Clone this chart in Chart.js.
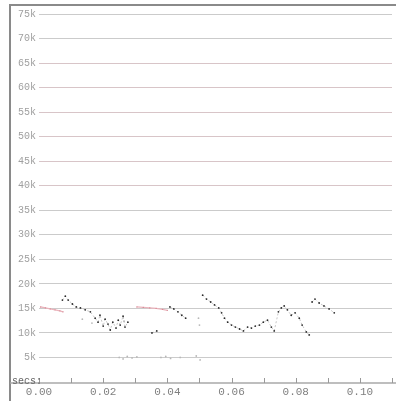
<!DOCTYPE html>
<html>
<head>
<meta charset="UTF-8">
<title>secs scatter</title>
<script src="https://cdn.jsdelivr.net/npm/chart.js"></script>
<style>
    body { margin: 0; background: #fff; }
    canvas { display: block; }
</style>
</head>
<body>
<canvas id="grafica" width="396" height="401"></canvas>
<script>
// main (black) series, null = break in the trace
var blackSecs = [0.0073, 0.0082, 0.0091, 0.0104, 0.0116, 0.0129, 0.0144, 0.0160, 0.0175, 0.0184, 0.0190, 0.0200, 0.0206, 0.0215, 0.0222, 0.0230, 0.0240, 0.0247, 0.0253, 0.0262, 0.0268, 0.0277, 0.0300,
    0.0352, 0.0367, 0.0390,
    0.0408, 0.0420, 0.0433, 0.0445, 0.0457, 0.0480,
    0.0510, 0.0522, 0.0535, 0.0547, 0.0560, 0.0569, 0.0578, 0.0588, 0.0600, 0.0612, 0.0625, 0.0637, 0.0650, 0.0662, 0.0674, 0.0687, 0.0699, 0.0712, 0.0724, 0.0733, 0.0746, 0.0755, 0.0764, 0.0774, 0.0786, 0.0798, 0.0811, 0.0820, 0.0833, 0.0842, 0.0846,
    0.0851, 0.0860, 0.0873, 0.0888, 0.0904, 0.0920];
var blackValues = [16700, 17500, 16700, 15900, 15300, 15100, 14700, 14300, 13000, 12200, 13600, 11400, 12800, 11800, 10600, 12200, 11000, 12600, 11600, 13400, 11200, 12200, null,
    10000, 10400, null,
    15300, 14900, 14300, 13600, 13000, null,
    17700, 16900, 16300, 15700, 15100, 14100, 13000, 12200, 11600, 11200, 10800, 10400, 11200, 11000, 11400, 11600, 12200, 12600, 11200, 10400, 14300, 15100, 15500, 14700, 13600, 14100, 13000, 11600, 10200, 9600, null,
    16300, 16900, 16100, 15500, 14900, 14100];

// pink trace near 15k
var pinkSecs = [0.0005, 0.0020, 0.0035, 0.0050, 0.0065, 0.0075, 0.0200, 0.0305, 0.0325, 0.0345, 0.0365, 0.0385, 0.0400];
var pinkValues = [15300, 15100, 14900, 14700, 14500, 14300, null, 15300, 15200, 15100, 15000, 14800, 14600];

// faint grey points
var greySecs = [0.0135, 0.0165, 0.0265, 0.0250, 0.0262, 0.0275, 0.0290, 0.0305, 0.0380, 0.0395, 0.0410, 0.0440, 0.0490, 0.0497, 0.0500, 0.0502];
var greyValues = [12800, 12000, 12400, 5000, 4700, 5200, 4900, 5100, 5000, 5200, 4800, 5000, 5300, 13000, 11600, 4500];

// ejes
var xMax = 0.11;
var xStep = 0.01;
var yMax = 75000;
var yStep = 5000;

function pares(xs, ys) {
    return xs.map(function (x, i) { return { x: x, y: ys[i] }; });
}

var marco = {
    id: 'marco',
    beforeDraw: function (chart) {
        var c = chart.ctx;
        c.save();
        c.fillStyle = '#fff';
        c.fillRect(0, 0, chart.width, chart.height);
        c.restore();
    },
    afterDraw: function (chart) {
        var c = chart.ctx;
        var xs = chart.scales.x;
        var ys = chart.scales.y;
        var base = ys.getPixelForValue(0);
        c.save();
        // frame
        c.strokeStyle = '#8a8a8a';
        c.lineWidth = 2;
        c.beginPath();
        c.moveTo(10, chart.height);
        c.lineTo(10, 5);
        c.lineTo(chart.width, 5);
        c.stroke();
        // axis line
        c.strokeStyle = '#a8a8a8';
        c.lineWidth = 1.5;
        c.beginPath();
        c.moveTo(10, base + 1);
        c.lineTo(chart.width, base + 1);
        c.stroke();
        // tick marks
        c.lineWidth = 1;
        c.strokeStyle = '#999';
        xs.ticks.forEach(function (t) {
            var px = Math.round(xs.getPixelForValue(t.value)) + 0.5;
            c.beginPath();
            c.moveTo(px, base - 4);
            c.lineTo(px, base + 1);
            c.stroke();
        });
        c.fillStyle = '#666';
        c.font = '10px "Liberation Mono", monospace';
        c.textBaseline = 'middle';
        c.fillText('secs:', 12, base - 1);
        c.restore();
    }
};

var ctx = document.getElementById('grafica').getContext('2d');
var grafica = new Chart(ctx, {
    type: 'scatter',
    data: {
        datasets: [{
            label: 'grey',
            data: pares(greySecs, greyValues),
            showLine: false,
            pointRadius: 0.9,
            pointBackgroundColor: '#b8b8b8',
            pointBorderWidth: 0
        }, {
            label: 'pink',
            data: pares(pinkSecs, pinkValues),
            showLine: true,
            spanGaps: false,
            borderColor: '#eab4bc',
            borderWidth: 1.2,
            pointRadius: 0.7,
            pointBackgroundColor: '#d88a96',
            pointBorderWidth: 0
        }, {
            label: 'main',
            data: pares(blackSecs, blackValues),
            showLine: true,
            spanGaps: false,
            borderColor: '#a0a0a0',
            borderWidth: 0.6,
            borderDash: [2, 2],
            pointRadius: 0.9,
            pointBackgroundColor: '#2a2a2a',
            pointBorderWidth: 0
        }]
    },
    options: {
        responsive: false,
        animation: false,
        devicePixelRatio: 1,
        layout: { padding: { left: 0, right: 3, top: 14, bottom: 0 } },
        plugins: { legend: { display: false }, tooltip: { enabled: false } },
        scales: {
            x: {
                type: 'linear',
                min: 0,
                max: xMax,
                border: { display: false },
                grid: { display: false, drawTicks: false },
                afterFit: function (s) { s.height = 19; },
                ticks: {
                    stepSize: xStep,
                    maxTicksLimit: 20,
                    autoSkip: false,
                    maxRotation: 0,
                    padding: 3,
                    color: '#808080',
                    font: { family: '"Liberation Mono", monospace', size: 11 },
                    callback: function (v) {
                        var n = Math.round(v * 100);
                        return n % 2 === 0 ? (n / 100).toFixed(2) : '';
                    }
                }
            },
            y: {
                type: 'linear',
                min: 0,
                max: yMax,
                border: { display: false },
                afterFit: function (s) { s.width = 39; },
                grid: {
                    drawTicks: false,
                    lineWidth: 1,
                    color: function (c) {
                        var v = c.tick ? c.tick.value : 0;
                        if (v === 0) return 'rgba(0,0,0,0)';
                        if (v >= 40000 && v <= 65000) return '#d8c5c8';
                        return '#cbcbcb';
                    }
                },
                ticks: {
                    stepSize: yStep,
                    maxTicksLimit: 20,
                    autoSkip: false,
                    padding: 3,
                    color: '#a0a0a0',
                    font: { family: '"Liberation Mono", monospace', size: 10 },
                    callback: function (v) {
                        return v === 0 ? '' : (v / 1000) + 'k';
                    }
                }
            }
        }
    },
    plugins: [marco]
});
</script>
</body>
</html>
